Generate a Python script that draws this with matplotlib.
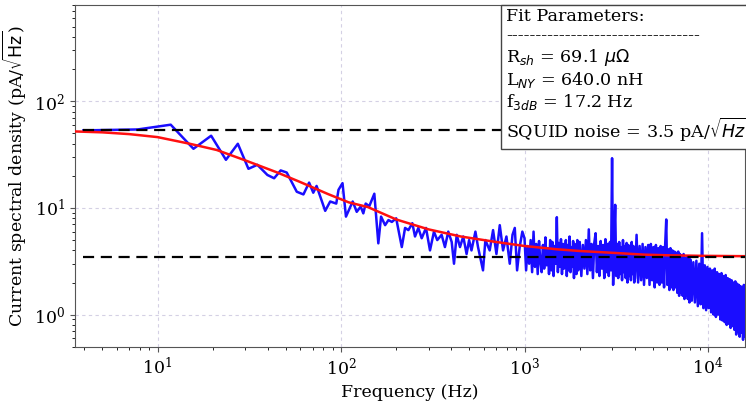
import numpy as np
import matplotlib
matplotlib.use('Agg')
import matplotlib.pyplot as plt

plt.rcParams['font.family'] = 'serif'
plt.rcParams['mathtext.fontset'] = 'dejavusans'

## Measured current PSD (read off the picture)
#   low / mid frequency part
freq_lo = [3.94, 7.8, 11.8, 15.7, 19.6, 23.6, 27.4, 31.3, 35.0, 39.7, 43.2, 46.9, 50.6,
           57.4, 62.4, 67.0, 70.6, 73.6, 82.0,
           87.3, 94.2, 96.9, 101.9, 106.4, 115.8, 121.8, 128, 132.3, 136.3, 142.6, 151.9,
           159.7, 165.3, 173.9, 181.3, 189.3, 199.8, 214.4, 223.4, 232.9, 244.7, 253.1,
           263.8, 275.2, 290.5, 305.4, 321, 334.5, 353.4, 368.4, 384.1, 401, 412.8, 427,
           445, 463.6, 483.4, 499, 514, 540, 558, 594, 612, 646, 674, 703, 733, 764, 797,
           831, 860, 885, 911, 941, 973]
psd_lo = [53.4, 54.5, 60.4, 35.9, 47.6, 28.3, 40.0, 23.3, 25.4, 20.4, 19.0, 22.5, 21.5,
          14.2, 13.4, 17.3, 13.9, 16.1, 9.4,
          11.5, 11.0, 14.8, 17.1, 8.3, 11.5, 9.2, 10.3, 8.9, 11.0, 10.4, 13.6,
          4.66, 8.3, 6.9, 7.7, 7.4, 8.0, 4.3, 6.5, 6.2, 7.2, 5.4,
          6.5, 5.2, 6.5, 4.0, 6.0, 5.0, 5.6, 4.3, 6.0, 4.8, 3.0, 5.6,
          4.3, 5.4, 3.7, 5.0, 4.0, 6.0, 4.3, 2.6, 5.0, 4.0, 6.2, 3.7, 6.9, 4.0, 5.4,
          3.0, 5.6, 6.5, 2.6, 4.3, 6.0]

#   dense high frequency part
freq_hi = [1000, 1020, 1040, 1060, 1080, 1100, 1120, 1140, 1160, 1180,
           1200, 1220, 1240, 1260, 1280, 1300, 1320, 1340, 1360, 1380,
           1400, 1420, 1440, 1460, 1480, 1500, 1520, 1540, 1560, 1580,
           1600, 1620, 1640, 1660, 1680, 1700, 1720, 1740, 1760, 1780,
           1800, 1820, 1840, 1860, 1880, 1900, 1920, 1940, 1960, 1980,
           2000, 2040, 2080, 2120, 2160, 2200, 2240, 2280, 2320, 2360,
           2400, 2440, 2480, 2520, 2560, 2600, 2640, 2680, 2720, 2760,
           2800, 2840, 2880, 2920, 2960, 3000, 3040, 3080, 3120, 3160,
           3200, 3240, 3280, 3320, 3360, 3400, 3440, 3480, 3520, 3560,
           3600, 3640, 3680, 3720, 3760, 3800, 3840, 3880, 3920, 3960,
           4000, 4080, 4160, 4240, 4320, 4400, 4480, 4560, 4640, 4720,
           4800, 4880, 4960, 5040, 5120, 5200, 5280, 5360, 5440, 5520,
           5600, 5680, 5760, 5840, 5920, 6000, 6080, 6160, 6240, 6320,
           6400, 6480, 6560, 6640, 6720, 6800, 6880, 6960, 7040, 7120,
           7200, 7280, 7360, 7440, 7520, 7600, 7680, 7760, 7840, 7920,
           8000, 8160, 8320, 8480, 8640, 8800, 8960, 9120, 9280, 9440,
           9600, 9760, 9920, 10080, 10240, 10400, 10560, 10720, 10880, 11040,
           11200, 11360, 11520, 11680, 11840, 12000, 12160, 12320, 12480, 12640,
           12800, 12960, 13120, 13280, 13440, 13600, 13760, 13920, 14080, 14240,
           14400, 14560, 14720, 14880, 15040, 15200, 15360, 15520, 15680, 15840,
           16000]
psd_hi = [5.2, 2.6, 4.4, 3.0, 5.0, 2.5, 6.0, 2.8, 4.6, 2.4,
          4.9, 3.1, 2.5, 4.5, 2.7, 5.3, 2.9, 4.2, 2.4, 5.0,
          2.6, 4.8, 2.3, 4.4, 3.0, 8.2, 2.5, 4.7, 2.8, 5.1,
          2.4, 4.6, 2.7, 3.9, 5.0, 2.3, 4.5, 2.6, 5.4, 2.5,
          4.3, 2.8, 4.9, 2.2, 4.6, 3.0, 2.4, 5.0, 2.6, 4.4,
          4.8, 2.3, 4.5, 2.7, 5.0, 2.4, 6.3, 2.6, 4.6, 2.2,
          4.7, 5.8, 2.5, 4.4, 2.3, 4.9, 2.7, 4.5, 2.2, 5.1,
          2.5, 4.6, 2.3, 4.8, 2.6, 29.3, 1.9, 4.9, 10.7, 2.3,
          4.6, 2.2, 4.8, 2.4, 4.3, 2.1, 5.0, 2.5, 4.4, 2.2,
          4.7, 2.0, 4.5, 2.3, 4.2, 2.1, 4.8, 2.4, 4.4, 2.0,
          2.2, 5.6, 2.0, 4.4, 2.1, 4.6, 1.9, 4.3, 2.2, 4.5,
          1.9, 4.6, 2.1, 4.3, 1.8, 4.5, 2.0, 4.2, 1.9, 4.4,
          2.0, 4.3, 1.8, 4.5, 7.8, 1.9, 4.1, 1.7, 4.2, 1.8,
          4.0, 1.7, 3.9, 1.8, 3.8, 1.6, 3.9, 1.5, 3.7, 1.6,
          3.6, 1.5, 3.7, 1.4, 3.4, 1.5, 3.5, 1.4, 3.3, 1.3,
          3.3, 1.35, 3.1, 1.3, 3.2, 1.2, 3.0, 1.25, 5.8, 1.15,
          2.9, 1.1, 2.8, 1.15, 2.7, 1.05, 2.6, 1.0, 2.7, 0.95,
          2.5, 1.0, 2.4, 0.9, 2.45, 0.88, 2.3, 0.85, 2.35, 0.8,
          2.2, 0.82, 2.15, 0.75, 2.1, 0.78, 2.0, 0.72, 2.05, 0.65,
          1.95, 0.7, 1.9, 0.62, 1.85, 0.68, 1.8, 0.58, 1.9, 0.62,
          1.75]

## Fit curve
fit_freq = [3.56, 5, 7, 10, 15, 21, 30, 45, 60, 85, 110, 140, 200, 300, 450, 700,
            1000, 1500, 2000, 3000, 4500, 6000, 9000, 16000]
fit_psd = [52.2, 51.2, 49.3, 46.2, 40.0, 35.0, 28.0, 21.5, 17.5, 13.5, 11.3, 10.2,
           7.8, 6.3, 5.4, 4.8, 4.4, 4.1, 3.95, 3.8, 3.65, 3.6, 3.56, 3.53]

white_level = 53.4   # low-frequency plateau
squid_level = 3.5    # SQUID noise floor

fig = plt.figure(figsize=(7.46, 4.01), dpi=100)
ax = fig.add_axes([0.1005, 0.1354, 0.8988, 0.852])

ax.loglog(freq_lo + freq_hi, psd_lo + psd_hi, color='#1a0dff', lw=1.8, zorder=3)
ax.loglog(fit_freq, fit_psd, color='#ff1010', lw=1.8, zorder=4)
ax.hlines([white_level, squid_level], 3.94, 16000, colors='k', linestyles=(0, (5, 3)),
          lw=1.6, zorder=5)

ax.set_xlim(3.55, 16000)
ax.set_ylim(0.5, 800)
ax.grid(True, which='major', ls=(0, (3, 3)), color='#d4d0e4', lw=0.8)

ax.set_xlabel('Frequency (Hz)', fontsize=12.5)
ax.set_ylabel('Current spectral density (pA/$\\sqrt{\\mathrm{Hz}}$)', fontsize=12.5)
ax.tick_params(labelsize=12.5, color='#555555')
for s in ax.spines.values():
    s.set_color('#555555')

txt = ('Fit Parameters:\n'
       '---------------------------------\n'
       'R$_{sh}$ = 69.1 $\\mu\\Omega$\n'
       'L$_{NY}$ = 640.0 nH\n'
       'f$_{3dB}$ = 17.2 Hz\n'
       'SQUID noise = 3.5 pA/$\\sqrt{Hz}$')
ax.text(0.643, 0.99, txt, transform=ax.transAxes, fontsize=12.6, va='top', ha='left',
        zorder=10, clip_on=False, linespacing=1.15,
        bbox=dict(boxstyle='square,pad=0.3', fc='white', ec='#444444', lw=1.0))

fig.savefig('out.png', dpi=100)
